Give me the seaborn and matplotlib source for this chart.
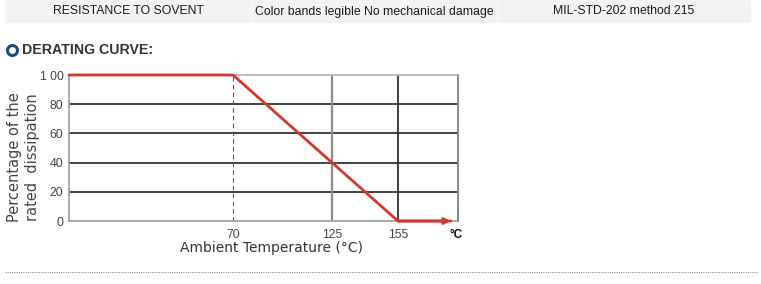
import numpy as np
import pandas as pd
import matplotlib
matplotlib.use("Agg")
import matplotlib.pyplot as plt
import seaborn as sns
from matplotlib.patches import Rectangle
from matplotlib.lines import Line2D

# ---- data ----
temps = [0, 70, 125, 155, 177]          # ambient temperature (°C)
power = [100, 100, 40, 0, 0]            # percentage of rated dissipation
x_ticks = [70, 125, 155, 179]
x_tick_labels = ["70", "125", "155", "°C"]
y_ticks = [0, 20, 40, 60, 80, 100]
y_tick_labels = ["0", "20", "40", "60", "80", "1 00"]
header_cells = ["RESISTANCE TO SOVENT",
                "Color bands legible No mechanical damage",
                "MIL-STD-202 method 215"]

sns.set_theme(style="white")
plt.rcParams['font.family'] = ['Liberation Sans', 'DejaVu Sans']

W, H = 761, 284
fig = plt.figure(figsize=(W / 100, H / 100), dpi=100)

def fx(px):
    return px / W

def fy(py):
    return 1 - py / H

# header table
cells = [(5, 251), (253, 496), (498, 750)]
for (x0, x1), txt in zip(cells, header_cells):
    fig.patches.append(Rectangle((fx(x0), fy(22)), fx(x1 - x0), 22 / H,
                                 transform=fig.transFigure, color="#f3f3f3", zorder=0))
    fig.text(fx((x0 + x1) / 2), fy(11.5), txt, ha="center", va="center",
             fontsize=8.8, color="#1a1a1a")

# section title
fig.add_artist(Line2D([fx(12)], [fy(50)], transform=fig.transFigure, marker="o",
                      markersize=7.2, markerfacecolor="none", markeredgecolor="#1d4a85",
                      markeredgewidth=2.2, linestyle="none"))
fig.text(fx(22), fy(50), "DERATING CURVE:", ha="left", va="center",
         fontsize=10.2, fontweight="bold", color="#333333")

# dotted separator
fig.add_artist(Line2D([fx(5), fx(757)], [fy(272), fy(272)], transform=fig.transFigure,
                      color="#8a8a8a", lw=0.8, linestyle=(0, (1, 1))))

# axes
ax = fig.add_axes([fx(69), fy(221), fx(458 - 69), (221 - 75) / H])

T_K = [-1000, 0, 70, 125, 155, 180, 1000]
P_K = [-2343, 0, 164, 263, 329, 389, 2357]
fwd = lambda t: np.interp(t, T_K, P_K)
inv = lambda p: np.interp(p, P_K, T_K)
ax.set_xscale("function", functions=(fwd, inv))
ax.set_xlim(0, 180)
ax.set_ylim(0, 100)

# grid lines
for yv in [20, 40, 60, 80]:
    ax.axhline(yv, color="#333333", lw=1.3, zorder=1)
ax.axvline(125, color="#8c8c8c", lw=1.6, zorder=1)
ax.axvline(155, color="#333333", lw=1.3, zorder=1)
ax.axvline(70, color="#555555", lw=0.8, linestyle=(0, (4, 3)), zorder=1)

df = pd.DataFrame({"temp": temps, "power": power})
sns.lineplot(data=df, x="temp", y="power", ax=ax, color="#cf3a2c", lw=2.0,
             sort=False, zorder=3, clip_on=False)
ax.annotate("", xy=(temps[-1], power[-1]), xytext=(temps[-2], power[-2]),
            arrowprops=dict(arrowstyle="-|>", color="#cf3a2c", lw=2.0,
                            mutation_scale=9, shrinkA=0, shrinkB=0), zorder=4)

for side, c in [("left", "#9a9a9a"), ("top", "#b0b0b0"),
                ("bottom", "#9a9a9a"), ("right", "#777777")]:
    ax.spines[side].set_color(c)
    ax.spines[side].set_linewidth(1.2)

ax.set_xticks(x_ticks)
ax.set_xticklabels(x_tick_labels)
ax.set_yticks(y_ticks)
ax.set_yticklabels(y_tick_labels)
ax.tick_params(axis="both", length=0, labelsize=8.8, labelcolor="#444444")
ax.tick_params(axis="x", pad=5.5)
ax.tick_params(axis="y", pad=4)
lbl = ax.get_xticklabels()[-1]
lbl.set_fontweight("bold")
lbl.set_color("#111111")
lbl.set_fontsize(8.5)
ax.set_xlabel("")
ax.set_ylabel("")

# axis titles
fig.text(fx(271), fy(248), "Ambient Temperature (°C)", ha="center", va="center",
         fontsize=10.0, color="#333333", family=["DejaVu Sans"])
fig.text(fx(15), fy(157), "Percentage of the", rotation=90, ha="center", va="center",
         fontsize=10.5, color="#444444", family=["DejaVu Sans"])
fig.text(fx(33), fy(157), "rated  dissipation", rotation=90, ha="center", va="center",
         fontsize=10.5, color="#444444", family=["DejaVu Sans"])

fig.savefig("out.png", dpi=100)
